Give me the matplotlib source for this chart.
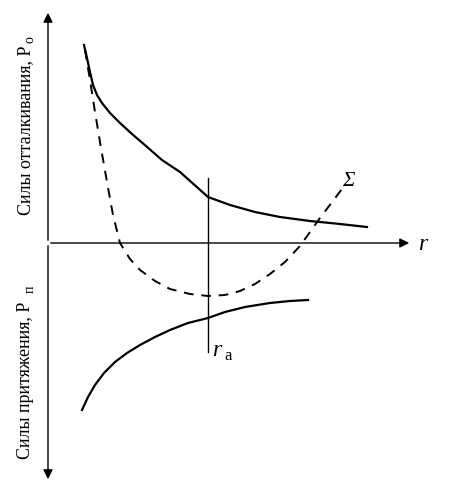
import matplotlib.pyplot as plt

plt.rcParams['font.family'] = ['Liberation Serif', 'DejaVu Serif']

# curves, in pixel coordinates (y downward)
rep_x = [84, 87, 90, 93, 97, 102, 110, 120, 132, 146, 162, 180, 208, 230, 255, 280, 310, 340, 367]
rep_y = [45, 58, 72, 85, 95, 103, 113, 123, 134, 146, 160, 172, 197, 205, 212, 217, 221, 224, 227]
att_x = [82, 88, 95, 104, 115, 127, 140, 155, 170, 188, 208, 225, 245, 270, 290, 308]
att_y = [410, 397, 385, 373, 362, 353, 345, 337, 330, 323, 318, 312, 307, 303, 301, 300]
sum_x = [85, 90, 95, 101, 107, 113, 120, 130, 140, 155, 170, 190, 208, 225, 240, 255, 270, 285, 300, 320, 345]
sum_y = [50, 80, 112, 148, 182, 215, 243, 259, 270, 281, 289, 294, 296, 295, 291, 284, 274, 262, 246, 218, 185]

fig = plt.figure(figsize=(4.58, 4.95), dpi=100)
ax = fig.add_axes([0, 0, 1, 1])
ax.set_xlim(0, 458)
ax.set_ylim(495, 0)
ax.axis('off')

kw = dict(arrowstyle='-|>', color='black', lw=1.0, mutation_scale=14)
ax.annotate('', xy=(48, 10), xytext=(48, 243), arrowprops=kw)
ax.annotate('', xy=(48, 482), xytext=(48, 243), arrowprops=kw)
ax.annotate('', xy=(412, 243), xytext=(48, 243), arrowprops=kw)
ax.plot([208, 208], [178, 352], color='black', lw=1.0)

ax.plot(rep_x, rep_y, color='black', lw=1.6)
ax.plot(att_x, att_y, color='black', lw=1.6)
ax.plot(sum_x, sum_y, color='black', lw=1.4, ls=(0, (5, 4)))

ax.text(418, 245, 'r', fontsize=17, style='italic', va='center')
ax.text(342, 182, 'Σ', fontsize=15, style='italic', va='center')
ax.text(212, 350, 'r', fontsize=17, style='italic', va='center')
ax.text(224, 356, 'a', fontsize=12, va='center')

ax.text(26, 130, 'Силы отталкивания, P', rotation=90, fontsize=13,
        ha='center', va='center')
ax.text(30, 40, 'о', rotation=90, fontsize=10, ha='center', va='center')
ax.text(26, 380, 'Силы притяжения, P', rotation=90, fontsize=13,
        ha='center', va='center')
ax.text(30, 289, 'п', rotation=90, fontsize=10, ha='center', va='center')

fig.savefig('out.png', dpi=100)
